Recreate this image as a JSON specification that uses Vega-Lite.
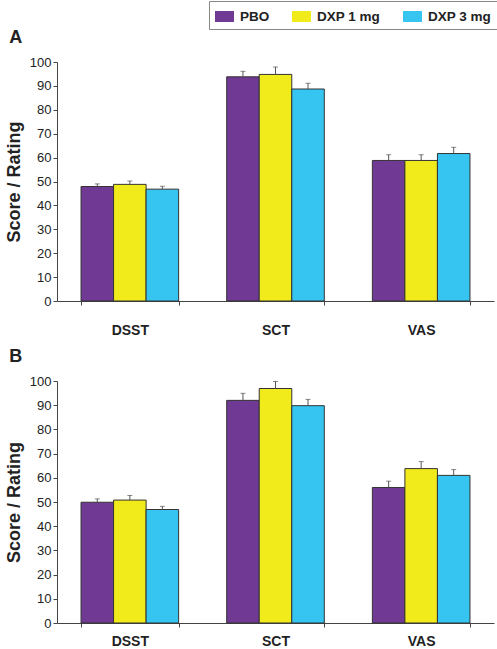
{
  "$schema": "https://vega.github.io/schema/vega-lite/v6.json",
  "padding": {"left": 5, "top": 0, "right": 0, "bottom": 0},
  "background": "white",
  "spacing": 11,
  "data": {
    "values": [
      {"panel": "A", "test": "DSST", "group": "PBO", "value": 47.9, "upper": 49.0},
      {"panel": "A", "test": "DSST", "group": "DXP 1 mg", "value": 48.8, "upper": 50.2},
      {"panel": "A", "test": "DSST", "group": "DXP 3 mg", "value": 46.8, "upper": 48.0},
      {"panel": "A", "test": "SCT", "group": "PBO", "value": 93.8, "upper": 96.1},
      {"panel": "A", "test": "SCT", "group": "DXP 1 mg", "value": 94.8, "upper": 97.9},
      {"panel": "A", "test": "SCT", "group": "DXP 3 mg", "value": 88.7, "upper": 91.1},
      {"panel": "A", "test": "VAS", "group": "PBO", "value": 58.8, "upper": 61.2},
      {"panel": "A", "test": "VAS", "group": "DXP 1 mg", "value": 58.8, "upper": 61.2},
      {"panel": "A", "test": "VAS", "group": "DXP 3 mg", "value": 61.7, "upper": 64.3},
      {"panel": "B", "test": "DSST", "group": "PBO", "value": 49.9, "upper": 51.3},
      {"panel": "B", "test": "DSST", "group": "DXP 1 mg", "value": 50.8, "upper": 52.7},
      {"panel": "B", "test": "DSST", "group": "DXP 3 mg", "value": 46.9, "upper": 48.2},
      {"panel": "B", "test": "SCT", "group": "PBO", "value": 92.0, "upper": 94.9},
      {"panel": "B", "test": "SCT", "group": "DXP 1 mg", "value": 96.9, "upper": 99.8},
      {"panel": "B", "test": "SCT", "group": "DXP 3 mg", "value": 89.8, "upper": 92.4},
      {"panel": "B", "test": "VAS", "group": "PBO", "value": 56.0, "upper": 58.6},
      {"panel": "B", "test": "VAS", "group": "DXP 1 mg", "value": 63.8, "upper": 66.7},
      {"panel": "B", "test": "VAS", "group": "DXP 3 mg", "value": 61.0, "upper": 63.4}
    ]
  },
  "config": {
    "view": {"stroke": null},
    "font": "Liberation Sans",
    "axis": {"domainColor": "#444", "tickColor": "#444", "labelColor": "#222", "titleColor": "#222", "grid": false},
    "axisY": {"labelOverlap": false, "titleFontSize": 18, "titleFontWeight": "bold", "labelFontSize": 13, "tickSize": 4, "labelPadding": 2, "titlePadding": 6},
    "title": {"anchor": "start", "frame": "bounds", "fontSize": 18, "fontWeight": "bold", "color": "#222", "offset": 9, "dx": 4}
  },
  "vconcat": [
    {
      "title": "A",
      "width": 437,
      "height": 239,
      "transform": [{"filter": "datum.panel === 'A'"}],
      "encoding": {
        "x": {"field": "test", "type": "nominal", "sort": ["DSST", "SCT", "VAS"], "scale": {"paddingInner": 0.33, "paddingOuter": 0.165},
          "axis": {"title": null, "labelAngle": 0, "tickBand": "extent", "tickSize": 4, "labelFontWeight": "bold", "labelFontSize": 14, "labelPadding": 18}},
        "xOffset": {"field": "group", "type": "nominal", "sort": ["PBO", "DXP 1 mg", "DXP 3 mg"]}
      },
      "layer": [
        {
          "mark": {"type": "bar", "stroke": "#333", "strokeWidth": 1},
          "encoding": {
            "y": {"field": "value", "type": "quantitative", "scale": {"domain": [0, 100], "nice": false},
              "axis": {"title": "Score / Rating", "values": [0, 10, 20, 30, 40, 50, 60, 70, 80, 90, 100], "labelOverlap": false}},
            "color": {"field": "group", "type": "nominal", "sort": ["PBO", "DXP 1 mg", "DXP 3 mg"],
              "scale": {"domain": ["PBO", "DXP 1 mg", "DXP 3 mg"], "range": ["#703994", "#F2EB1C", "#36C5F0"]},
              "legend": {"orient": "none", "legendX": 152, "legendY": -61, "direction": "horizontal", "title": null,
                "symbolType": "M-1,-0.58L1,-0.58L1,0.58L-1,0.58Z", "symbolSize": 361, "symbolStrokeWidth": 0,
                "labelFontWeight": "bold", "labelFontSize": 13.5, "labelColor": "#222",
                "labelOffset": 6, "columnPadding": 22, "padding": 6, "strokeColor": "#888", "fillColor": "white"}}
          }
        },
        {
          "mark": {"type": "rule", "color": "#555", "strokeWidth": 1},
          "encoding": {"y": {"field": "value", "type": "quantitative", "axis": {"title": "Score / Rating", "values": [0, 10, 20, 30, 40, 50, 60, 70, 80, 90, 100], "labelOverlap": false}}, "y2": {"field": "upper"}}
        },
        {
          "mark": {"type": "tick", "color": "#555", "size": 5, "thickness": 1},
          "encoding": {"y": {"field": "upper", "type": "quantitative", "axis": {"title": "Score / Rating", "values": [0, 10, 20, 30, 40, 50, 60, 70, 80, 90, 100], "labelOverlap": false}}}
        }
      ]
    },
    {
      "title": "B",
      "width": 437,
      "height": 242,
      "transform": [{"filter": "datum.panel === 'B'"}],
      "encoding": {
        "x": {"field": "test", "type": "nominal", "sort": ["DSST", "SCT", "VAS"], "scale": {"paddingInner": 0.33, "paddingOuter": 0.165},
          "axis": {"title": null, "labelAngle": 0, "tickBand": "extent", "tickSize": 4, "labelFontWeight": "bold", "labelFontSize": 14, "labelPadding": 7}},
        "xOffset": {"field": "group", "type": "nominal", "sort": ["PBO", "DXP 1 mg", "DXP 3 mg"]}
      },
      "layer": [
        {
          "mark": {"type": "bar", "stroke": "#333", "strokeWidth": 1},
          "encoding": {
            "y": {"field": "value", "type": "quantitative", "scale": {"domain": [0, 100], "nice": false},
              "axis": {"title": "Score / Rating", "values": [0, 10, 20, 30, 40, 50, 60, 70, 80, 90, 100], "labelOverlap": false}},
            "color": {"field": "group", "type": "nominal", "sort": ["PBO", "DXP 1 mg", "DXP 3 mg"],
              "scale": {"domain": ["PBO", "DXP 1 mg", "DXP 3 mg"], "range": ["#703994", "#F2EB1C", "#36C5F0"]}}
          }
        },
        {
          "mark": {"type": "rule", "color": "#555", "strokeWidth": 1},
          "encoding": {"y": {"field": "value", "type": "quantitative", "axis": {"title": "Score / Rating", "values": [0, 10, 20, 30, 40, 50, 60, 70, 80, 90, 100], "labelOverlap": false}}, "y2": {"field": "upper"}}
        },
        {
          "mark": {"type": "tick", "color": "#555", "size": 5, "thickness": 1},
          "encoding": {"y": {"field": "upper", "type": "quantitative", "axis": {"title": "Score / Rating", "values": [0, 10, 20, 30, 40, 50, 60, 70, 80, 90, 100], "labelOverlap": false}}}
        }
      ]
    }
  ]
}
